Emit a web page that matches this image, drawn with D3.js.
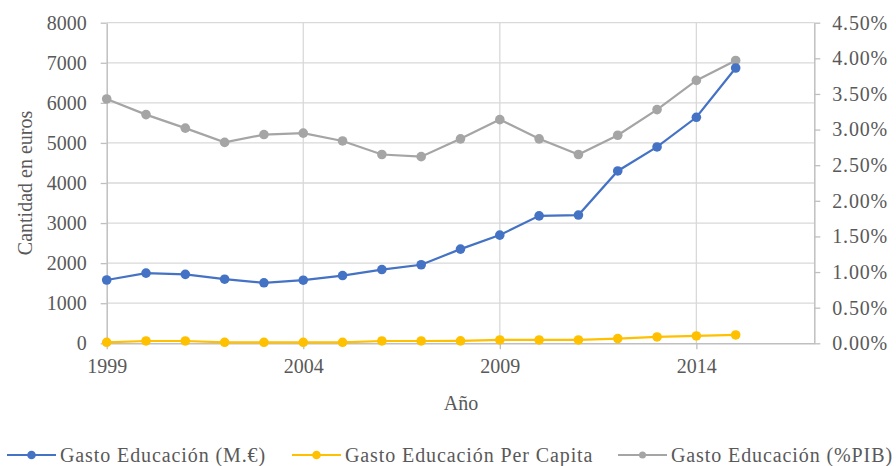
<!DOCTYPE html>
<html>
<head>
<meta charset="utf-8">
<script src="https://cdn.jsdelivr.net/npm/d3@7"></script>
<style>
  body { margin: 0; background: #fff; }
  svg text { font-family: "Liberation Serif", "DejaVu Serif", "Noto Serif", serif !important; fill: #595959; }
</style>
</head>
<body>
<div id="chart"></div>
<script>
// data
const years = [1999, 2000, 2001, 2002, 2003, 2004, 2005, 2006, 2007, 2008, 2009, 2010, 2011, 2012, 2013, 2014, 2015];
const gastoMillones = [1580, 1750, 1720, 1600, 1510, 1575, 1690, 1840, 1960, 2350, 2700, 3180, 3200, 4300, 4900, 5640, 6870];
const gastoPerCapita = [25, 58, 58, 25, 25, 25, 25, 58, 58, 60, 83, 83, 83, 117, 158, 183, 208];
const gastoPIB = [0.0343, 0.0321, 0.0302, 0.0282, 0.0293, 0.0295, 0.0284, 0.0265, 0.0262, 0.0287, 0.0314, 0.0287, 0.0265, 0.0292, 0.0328, 0.0369, 0.0397];
const xTicks = [1999, 2004, 2009, 2014];
const seriesNames = ["Gasto Educación (M.€)", "Gasto Educación Per Capita", "Gasto Educación (%PIB)"];

var W = 896, H = 466;
var margin = { top: 22.7, left: 106.7, right: 81.7, bottom: 122.7 };
var width = W - margin.left - margin.right,
    height = H - margin.top - margin.bottom;

var svg = d3.select("#chart").append("svg")
    .attr("width", W)
    .attr("height", H);

var g = svg.append("g")
    .attr("transform", "translate(" + margin.left + "," + margin.top + ")");

var x = d3.scaleLinear().domain([1999, 2017]).range([0, width]);
var yLeft = d3.scaleLinear().domain([0, 8000]).range([height, 0]);
var yRight = d3.scaleLinear().domain([0, 0.045]).range([height, 0]);

//gridlines
g.append("g").selectAll("line")
    .data(d3.range(1000, 8001, 1000)).enter()
    .append("line")
    .attr("x1", 0).attr("x2", width)
    .attr("y1", d => yLeft(d)).attr("y2", d => yLeft(d))
    .attr("stroke", "#d9d9d9").attr("stroke-width", 1.3);
g.append("g").selectAll("line")
    .data(xTicks.slice(1)).enter()
    .append("line")
    .attr("x1", d => x(d)).attr("x2", d => x(d))
    .attr("y1", 0).attr("y2", height)
    .attr("stroke", "#d9d9d9").attr("stroke-width", 1.3);

// axes
var axisColor = "#bfbfbf";
function styleAxis(sel) {
    sel.attr("font-family", null);
    sel.selectAll("path").attr("stroke", axisColor).attr("stroke-width", 1.5);
    sel.selectAll("line").attr("stroke", axisColor).attr("stroke-width", 1.3);
    sel.selectAll("text").attr("fill", "#595959").style("font-size", "20px");
}

g.append("g")
    .call(d3.axisLeft(yLeft).tickValues(d3.range(0, 8001, 1000)).tickSize(6).tickPadding(14).tickSizeOuter(0).tickFormat(d3.format("d")))
    .call(styleAxis);

g.append("g")
    .attr("transform", "translate(" + width + ",0)")
    .call(d3.axisRight(yRight).tickValues(d3.range(0, 10).map(i => i * 0.005)).tickSize(6).tickPadding(12).tickSizeOuter(0).tickFormat(d3.format(".2%")))
    .call(styleAxis)
    .selectAll("text").style("letter-spacing", "0.8px");

g.append("g")
    .attr("transform", "translate(0," + height + ")")
    .call(d3.axisBottom(x).tickValues(xTicks).tickSize(6).tickPadding(10).tickSizeOuter(0).tickFormat(d3.format("d")))
    .call(styleAxis);

// axis titles
g.append("text")
    .attr("transform", "translate(" + (25 - margin.left) + "," + height / 2 + ") rotate(-90)")
    .attr("text-anchor", "middle")
    .attr("dominant-baseline", "central")
    .style("font-size", "20px")
    .text("Cantidad en euros");

svg.append("text")
    .attr("x", 461).attr("y", 410)
    .attr("text-anchor", "middle")
    .style("font-size", "20px")
    .text("Año");

// series
var series = [
    { name: seriesNames[0], values: gastoMillones, y: yLeft, color: "#4472c4", r: 4.8 },
    { name: seriesNames[1], values: gastoPerCapita, y: yLeft, color: "#ffc000", r: 4.8 },
    { name: seriesNames[2], values: gastoPIB, y: yRight, color: "#a5a5a5", r: 4.8 }
];

// draw gray first so blue/yellow sit on top
[series[2], series[1], series[0]].forEach(function (s) {
    var line = d3.line()
        .x((d, i) => x(years[i]))
        .y(d => s.y(d));
    g.append("path")
        .datum(s.values)
        .attr("d", line)
        .attr("fill", "none")
        .attr("stroke", s.color)
        .attr("stroke-width", 2.2);
    g.append("g").selectAll("circle")
        .data(s.values).enter()
        .append("circle")
        .attr("cx", (d, i) => x(years[i]))
        .attr("cy", d => s.y(d))
        .attr("r", s.r)
        .attr("fill", s.color);
});

// legend
var legendX = [7, 292, 618];
var legendR = [4.3, 4.3, 3.5];
var legend = svg.append("g").selectAll("g")
    .data(series).enter()
    .append("g")
    .attr("transform", (d, i) => "translate(" + legendX[i] + ",455)");
legend.append("line")
    .attr("x1", 0).attr("x2", 49)
    .attr("stroke", d => d.color).attr("stroke-width", 2.2);
legend.append("circle")
    .attr("cx", 24.5).attr("r", (d, i) => legendR[i])
    .attr("fill", d => d.color);
legend.append("text")
    .attr("x", 53).attr("y", 7)
    .style("font-size", "20px")
    .style("letter-spacing", "0.9px")
    .text(d => d.name);
</script>
</body>
</html>
